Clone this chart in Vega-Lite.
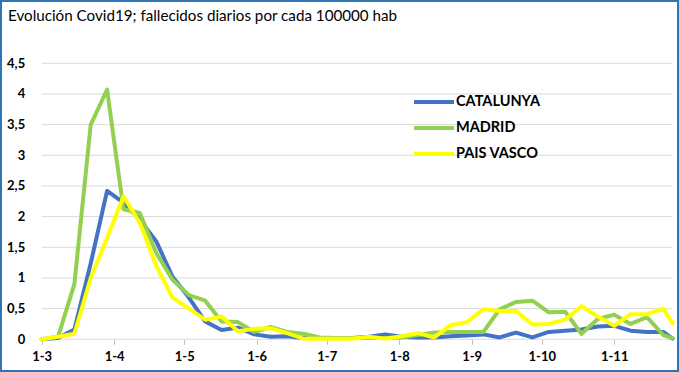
{
  "$schema": "https://vega.github.io/schema/vega-lite/v6.json",
  "autosize": "none",
  "padding": {"left": 1, "top": 1, "right": 1, "bottom": 1},
  "width": 677,
  "height": 370,
  "background": "#ffffff",
  "config": {
    "view": {"stroke": "#2F75B5", "strokeWidth": 2},
    "font": "Lato"
  },
  "title": {
    "text": "Evolución Covid19; fallecidos diarios por cada 100000 hab",
    "anchor": "start",
    "frame": "group",
    "baseline": "middle",
    "offset": -30,
    "dx": 7,
    "font": "Lato",
    "fontSize": 15.2,
    "fontWeight": "normal",
    "color": "#000000"
  },
  "datasets": {
    "grid": [{"g": 0}, {"g": 0.5}, {"g": 1}, {"g": 1.5}, {"g": 2}, {"g": 2.5}, {"g": 3}, {"g": 3.5}, {"g": 4}, {"g": 4.5}],
    "serie": [
      {"fecha": "2020-03-01", "CATALUNYA": 0, "MADRID": 0, "PAIS VASCO": 0},
      {"fecha": "2020-03-08", "CATALUNYA": 0.02, "MADRID": 0.04, "PAIS VASCO": 0.04},
      {"fecha": "2020-03-15", "CATALUNYA": 0.16, "MADRID": 0.9, "PAIS VASCO": 0.09},
      {"fecha": "2020-03-22", "CATALUNYA": 1.24, "MADRID": 3.5, "PAIS VASCO": 1.0},
      {"fecha": "2020-03-29", "CATALUNYA": 2.42, "MADRID": 4.07, "PAIS VASCO": 1.65},
      {"fecha": "2020-04-05", "CATALUNYA": 2.23, "MADRID": 2.12, "PAIS VASCO": 2.33},
      {"fecha": "2020-04-12", "CATALUNYA": 1.95, "MADRID": 2.06, "PAIS VASCO": 1.9},
      {"fecha": "2020-04-19", "CATALUNYA": 1.6, "MADRID": 1.41, "PAIS VASCO": 1.2},
      {"fecha": "2020-04-26", "CATALUNYA": 1.02, "MADRID": 0.97, "PAIS VASCO": 0.68},
      {"fecha": "2020-05-03", "CATALUNYA": 0.68, "MADRID": 0.72, "PAIS VASCO": 0.5},
      {"fecha": "2020-05-10", "CATALUNYA": 0.29, "MADRID": 0.63, "PAIS VASCO": 0.32},
      {"fecha": "2020-05-17", "CATALUNYA": 0.15, "MADRID": 0.29, "PAIS VASCO": 0.37},
      {"fecha": "2020-05-24", "CATALUNYA": 0.19, "MADRID": 0.28, "PAIS VASCO": 0.13},
      {"fecha": "2020-05-31", "CATALUNYA": 0.08, "MADRID": 0.12, "PAIS VASCO": 0.17},
      {"fecha": "2020-06-07", "CATALUNYA": 0.04, "MADRID": 0.2, "PAIS VASCO": 0.18},
      {"fecha": "2020-06-14", "CATALUNYA": 0.05, "MADRID": 0.12, "PAIS VASCO": 0.1},
      {"fecha": "2020-06-21", "CATALUNYA": 0.02, "MADRID": 0.09, "PAIS VASCO": 0.01},
      {"fecha": "2020-06-28", "CATALUNYA": 0.02, "MADRID": 0.03, "PAIS VASCO": 0.01},
      {"fecha": "2020-07-05", "CATALUNYA": 0.02, "MADRID": 0.02, "PAIS VASCO": 0.01},
      {"fecha": "2020-07-12", "CATALUNYA": 0.02, "MADRID": 0.02, "PAIS VASCO": 0.01},
      {"fecha": "2020-07-19", "CATALUNYA": 0.04, "MADRID": 0.02, "PAIS VASCO": 0.04},
      {"fecha": "2020-07-26", "CATALUNYA": 0.08, "MADRID": 0.02, "PAIS VASCO": 0.01},
      {"fecha": "2020-08-02", "CATALUNYA": 0.04, "MADRID": 0.03, "PAIS VASCO": 0.05},
      {"fecha": "2020-08-09", "CATALUNYA": 0.03, "MADRID": 0.07, "PAIS VASCO": 0.1},
      {"fecha": "2020-08-16", "CATALUNYA": 0.03, "MADRID": 0.11, "PAIS VASCO": 0.03},
      {"fecha": "2020-08-23", "CATALUNYA": 0.05, "MADRID": 0.12, "PAIS VASCO": 0.23},
      {"fecha": "2020-08-30", "CATALUNYA": 0.06, "MADRID": 0.12, "PAIS VASCO": 0.28},
      {"fecha": "2020-09-06", "CATALUNYA": 0.08, "MADRID": 0.12, "PAIS VASCO": 0.49},
      {"fecha": "2020-09-13", "CATALUNYA": 0.03, "MADRID": 0.49, "PAIS VASCO": 0.46},
      {"fecha": "2020-09-20", "CATALUNYA": 0.11, "MADRID": 0.61, "PAIS VASCO": 0.46},
      {"fecha": "2020-09-27", "CATALUNYA": 0.03, "MADRID": 0.63, "PAIS VASCO": 0.24},
      {"fecha": "2020-10-04", "CATALUNYA": 0.12, "MADRID": 0.44, "PAIS VASCO": 0.25},
      {"fecha": "2020-10-11", "CATALUNYA": 0.14, "MADRID": 0.45, "PAIS VASCO": 0.32},
      {"fecha": "2020-10-18", "CATALUNYA": 0.16, "MADRID": 0.09, "PAIS VASCO": 0.54},
      {"fecha": "2020-10-25", "CATALUNYA": 0.21, "MADRID": 0.33, "PAIS VASCO": 0.37},
      {"fecha": "2020-11-01", "CATALUNYA": 0.22, "MADRID": 0.4, "PAIS VASCO": 0.22},
      {"fecha": "2020-11-08", "CATALUNYA": 0.14, "MADRID": 0.25, "PAIS VASCO": 0.41},
      {"fecha": "2020-11-15", "CATALUNYA": 0.12, "MADRID": 0.36, "PAIS VASCO": 0.41},
      {"fecha": "2020-11-22", "CATALUNYA": 0.12, "MADRID": 0.07, "PAIS VASCO": 0.5},
      {"fecha": "2020-11-26", "CATALUNYA": 0.01, "MADRID": 0.02, "PAIS VASCO": 0.26}
    ]
  },
  "layer": [
    {
      "data": {"name": "grid"},
      "mark": {"type": "rule", "color": "#D9D9D9", "strokeWidth": 1},
      "encoding": {
        "x": {"datum": {"year": 2020, "month": 3, "date": 1, "utc": true}, "type": "temporal", "title": null},
        "x2": {"datum": {"year": 2020, "month": 11, "date": 26, "utc": true}},
        "y": {"field": "g", "type": "quantitative", "title": null}
      }
    },
    {
      "data": {"name": "serie"},
      "transform": [
        {"fold": ["CATALUNYA", "MADRID", "PAIS VASCO"], "as": ["region", "valor"]}
      ],
      "mark": {"type": "line", "strokeWidth": 4, "strokeJoin": "round", "strokeCap": "round"},
      "encoding": {
        "x": {
          "field": "fecha",
          "type": "temporal",
          "title": null,
          "scale": {
            "type": "utc",
            "domain": [
              {"year": 2020, "month": 2, "date": 12, "hours": 14, "minutes": 24, "utc": true},
              {"year": 2020, "month": 11, "date": 28, "hours": 7, "minutes": 12, "utc": true}
            ]
          },
          "axis": {
            "values": [
              {"year": 2020, "month": 3, "date": 1, "utc": true},
              {"year": 2020, "month": 4, "date": 1, "utc": true},
              {"year": 2020, "month": 5, "date": 1, "utc": true},
              {"year": 2020, "month": 6, "date": 1, "utc": true},
              {"year": 2020, "month": 7, "date": 1, "utc": true},
              {"year": 2020, "month": 8, "date": 1, "utc": true},
              {"year": 2020, "month": 9, "date": 1, "utc": true},
              {"year": 2020, "month": 10, "date": 1, "utc": true},
              {"year": 2020, "month": 11, "date": 1, "utc": true}
            ],
            "format": "%-d-%-m",
            "offset": -31.7,
            "domain": false,
            "grid": false,
            "ticks": true,
            "tickSize": 5,
            "tickColor": "#BFBFBF",
            "labelPadding": 6,
            "labelFont": "Lato",
            "labelFontSize": 13,
            "labelFontWeight": "bold",
            "labelColor": "#000000",
            "labelFlush": false,
            "labelOverlap": false
          }
        },
        "y": {
          "field": "valor",
          "type": "quantitative",
          "title": null,
          "scale": {"domain": [-0.517, 5.516], "nice": false, "zero": false},
          "axis": {
            "values": [0, 0.5, 1, 1.5, 2, 2.5, 3, 3.5, 4, 4.5],
            "format": "~g",
            "labelExpr": "replace(datum.label, '.', ',')",
            "offset": -40.7,
            "domain": false,
            "ticks": false,
            "tickSize": 0,
            "grid": false,
            "labelPadding": 17,
            "labelFont": "Lato",
            "labelFontSize": 13,
            "labelFontWeight": "bold",
            "labelColor": "#000000"
          }
        },
        "color": {
          "field": "region",
          "type": "nominal",
          "scale": {
            "domain": ["CATALUNYA", "MADRID", "PAIS VASCO"],
            "range": ["#4472C4", "#92D050", "#FFFF00"]
          },
          "legend": {
            "orient": "none",
            "legendX": 421,
            "legendY": 89,
            "title": null,
            "padding": 0,
            "symbolType": "M-2,0H2",
            "symbolSize": 400,
            "symbolStrokeWidth": 4,
            "labelFont": "Lato",
            "labelFontSize": 14.5,
            "labelFontWeight": "bold",
            "labelColor": "#000000",
            "labelOffset": 10,
            "rowPadding": 6
          }
        }
      }
    }
  ]
}
